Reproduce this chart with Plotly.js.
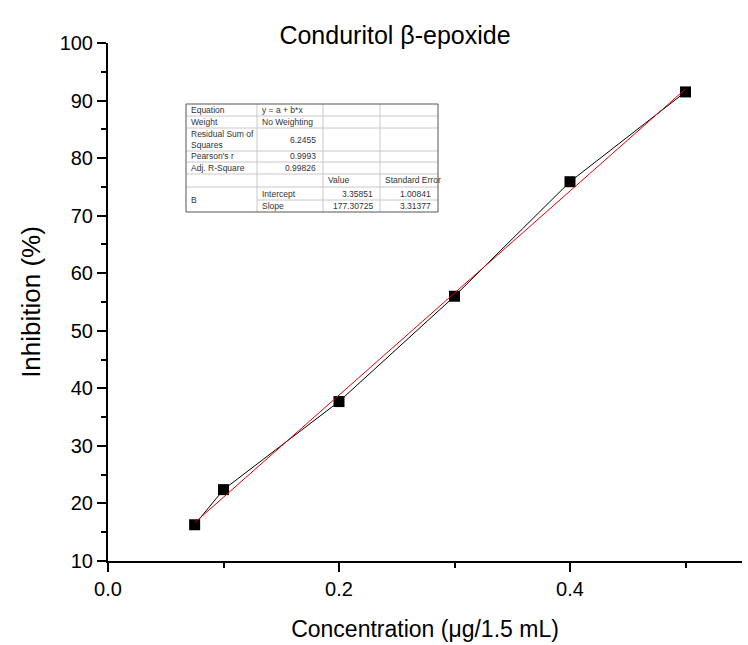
<!DOCTYPE html>
<html><head><meta charset="utf-8">
<script src="https://cdn.plot.ly/plotly-3.0.1.min.js"></script>
<style>body{margin:0;background:#fff}#chart{width:748px;height:645px}</style>
</head><body><div id="chart"></div>
<script>
// Data
const concentration = [0.075, 0.1, 0.2, 0.3, 0.4, 0.5];
const inhibition = [16.3, 22.4, 37.7, 56.0, 75.9, 91.5];
const fitIntercept = 3.35851;
const fitSlope = 177.30725;
const fitX = [0.075, 0.5];
const xTickVals = [0.0, 0.2, 0.4];
const xTickText = ['0.0', '0.2', '0.4'];
const yTickVals = [10, 20, 30, 40, 50, 60, 70, 80, 90, 100];
const tableRows = [
  ['Equation', 'y = a + b*x', '', ''],
  ['Weight', 'No Weighting', '', ''],
  ['Residual Sum of<br>Squares', '6.2455', '', ''],
  ["Pearson's r", '0.9993', '', ''],
  ['Adj. R-Square', '0.99826', '', ''],
  ['', '', 'Value', 'Standard Error'],
  ['B', 'Intercept', '3.35851', '1.00841'],
  ['', 'Slope', '177.30725', '3.31377']
];

const fitY = fitX.map(x => fitIntercept + fitSlope * x);

// layout geometry
const W = 748, H = 645, L = 108, R = 6, T = 43, B = 84;
const PW = W - L - R, PH = H - T - B;
const px = x => (x - L) / PW;
const py = y => (H - B - y) / PH;

// table geometry (pixels)
const colX = [186, 257, 323, 380, 438];
const rowY = [104, 116, 128, 151, 162, 174, 187, 200, 212];
const shapes = [];
const annotations = [];
const grey = '#c8c8c8';
for (let i = 1; i < rowY.length - 1; i++) {
  const x0 = (i === 7) ? colX[1] : colX[0];
  shapes.push({type:'line', xref:'paper', yref:'paper', x0:px(x0), x1:px(colX[4]), y0:py(rowY[i]), y1:py(rowY[i]), line:{color:grey, width:1}});
}
for (let j = 1; j < colX.length - 1; j++) {
  shapes.push({type:'line', xref:'paper', yref:'paper', x0:px(colX[j]), x1:px(colX[j]), y0:py(rowY[0]), y1:py(rowY[8]), line:{color:grey, width:1}});
}
shapes.push({type:'rect', xref:'paper', yref:'paper', x0:px(colX[0]), x1:px(colX[4]), y0:py(rowY[0]), y1:py(rowY[8]), line:{color:'#555', width:1}, fillcolor:'rgba(0,0,0,0)'});

const tfont = {family:'Liberation Sans, Arial, sans-serif', size:8.5, color:'#333'};
tableRows.forEach((row, i) => {
  row.forEach((txt, j) => {
    if (!txt) return;
    let yc = (rowY[i] + rowY[i+1]) / 2;
    if (i === 6 && j === 0) yc = (rowY[6] + rowY[8]) / 2;
    const numeric = /^[0-9.]+$/.test(txt);
    const xPos = numeric ? px(colX[j+1] - 5) : px(colX[j] + 3);
    annotations.push({xref:'paper', yref:'paper', x:xPos, y:py(yc), text:txt, showarrow:false,
      xanchor: numeric ? 'right' : 'left', yanchor:'middle', align:'left', font:tfont});
  });
});

const traces = [
  {x: concentration, y: inhibition, type:'scatter', mode:'lines+markers',
   line:{color:'#000', width:1}, marker:{symbol:'square', size:11, color:'#000'}},
  {x: fitX, y: fitY, type:'scatter', mode:'lines', line:{color:'#e00000', width:1}}
];

const axFont = {family:'Liberation Sans, Arial, sans-serif', size:20, color:'#000'};
const layout = {
  width: W, height: H,
  margin: {l:L, r:R, t:T, b:B},
  paper_bgcolor:'#fff', plot_bgcolor:'#fff',
  showlegend:false,
  font:{family:'Liberation Sans, Arial, sans-serif', color:'#000'},
  title:{text:'Conduritol β-epoxide', x:px(395), xref:'paper', xanchor:'center', y:1-35/H, yref:'container', yanchor:'middle',
    font:{size:25, color:'#000'}},
  xaxis:{range:[0, PW/1155], tickvals:xTickVals, ticktext:xTickText, showgrid:false, zeroline:false,
    showline:true, linecolor:'#000', linewidth:2, ticks:'outside', ticklen:9, tickwidth:2, tickcolor:'#000',
    minor:{tickvals:[0.1,0.3,0.5], ticks:'outside', ticklen:5, tickwidth:2, tickcolor:'#000', showgrid:false},
    tickfont:axFont,
    title:{text:'Concentration (μg/1.5 mL)', font:{size:23, color:'#000'}, standoff:22}},
  yaxis:{range:[10, 100], tickvals:yTickVals, showgrid:false, zeroline:false,
    showline:true, linecolor:'#000', linewidth:2, ticks:'outside', ticklen:9, tickwidth:2, tickcolor:'#000',
    minor:{dtick:5, ticks:'outside', ticklen:5, tickwidth:2, tickcolor:'#000', showgrid:false},
    tickfont:axFont,
    title:{text:'Inhibition (%)', font:{size:26, color:'#000'}, standoff:12}},
  shapes: shapes,
  annotations: annotations
};
Plotly.newPlot('chart', traces, layout, {displayModeBar:false, staticPlot:true});
</script></body></html>
